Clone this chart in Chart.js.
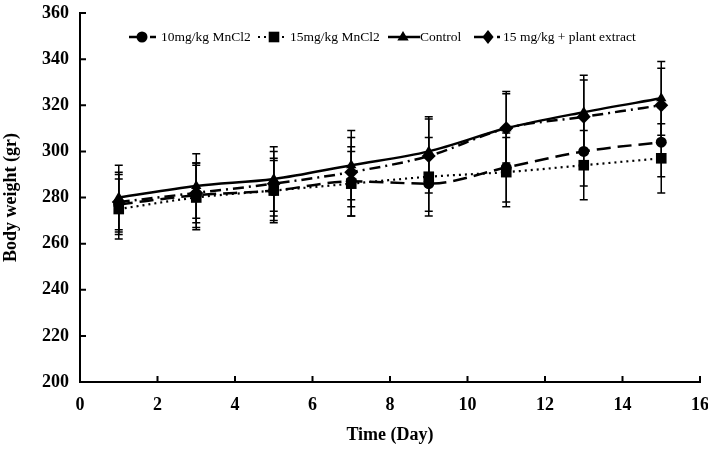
<!DOCTYPE html>
<html>
<head>
<meta charset="utf-8">
<script src="https://cdn.jsdelivr.net/npm/chart.js"></script>
<style>
  body { margin: 0; background: #fff; }
</style>
</head>
<body>
<canvas id="myChart" width="708" height="452"></canvas>
<script>
// data
const days = [1, 3, 5, 7, 9, 11, 13, 15]
const mn10 = [277, 281, 283, 287, 286, 293, 300, 304]
const mn15 = [275, 280, 283, 286, 289, 291, 294, 297]
const control = [280, 285, 288, 294, 300, 310, 317, 323]
const plant = [278, 282, 286, 291, 298, 310, 315, 320]
const errMn10 = [13, 14, 13, 15, 12, 15, 15, 15]
const errMn15 = [13, 14, 14, 14, 17, 15, 15, 15]
const errControl = [14, 14, 14, 15, 15, 16, 16, 16]
const errPlant = [13, 13, 14, 15, 16, 15, 16, 16]
const xTicks = [0, 2, 4, 6, 8, 10, 12, 14, 16]
const yTicks = [200, 220, 240, 260, 280, 300, 320, 340, 360]

const serif = "'Liberation Serif', 'Times New Roman', serif"
Chart.defaults.font.family = serif
Chart.defaults.color = '#000'

const pts = (vals) => days.map((d, i) => ({ x: d, y: vals[i] }))

const series = [
    { label: '10mg/kg MnCl2', vals: mn10, err: errMn10, dash: [14, 7], style: 'circle', r: 5.5, w: 2.5 },
    { label: '15mg/kg MnCl2', vals: mn15, err: errMn15, dash: [2, 4], style: 'rect', r: 7.5, w: 2.2 },
    { label: 'Control', vals: control, err: errControl, dash: [], style: 'triangle', r: 6, w: 2.5 },
    { label: '15 mg/kg + plant extract', vals: plant, err: errPlant, dash: [11, 5, 2, 5], style: 'rectRot', r: 7, w: 2.5 }
]

function marker(ctx, style, x, y, r) {
    ctx.beginPath()
    if (style === 'circle') {
        ctx.arc(x, y, r, 0, Math.PI * 2)
    } else if (style === 'rect') {
        const s = r * Math.SQRT1_2
        ctx.rect(x - s, y - s, 2 * s, 2 * s)
    } else if (style === 'triangle') {
        ctx.moveTo(x, y - r)
        ctx.lineTo(x + r * 0.95, y + r * 0.6)
        ctx.lineTo(x - r * 0.95, y + r * 0.6)
        ctx.closePath()
    } else {
        ctx.moveTo(x, y - r); ctx.lineTo(x + r * 0.8, y); ctx.lineTo(x, y + r); ctx.lineTo(x - r * 0.8, y)
        ctx.closePath()
    }
    ctx.fill()
}

const errorBars = {
    id: 'errorBars',
    beforeDatasetsDraw(chart) {
        const ctx = chart.ctx, xs = chart.scales.x, ys = chart.scales.y
        ctx.save()
        ctx.strokeStyle = '#000'
        ctx.lineWidth = 1.5
        series.forEach(s => {
            days.forEach((d, i) => {
                const px = xs.getPixelForValue(d)
                const top = ys.getPixelForValue(s.vals[i] + s.err[i])
                const bot = ys.getPixelForValue(s.vals[i] - s.err[i])
                ctx.beginPath()
                ctx.moveTo(px, top); ctx.lineTo(px, bot)
                ctx.moveTo(px - 4, top); ctx.lineTo(px + 4, top)
                ctx.moveTo(px - 4, bot); ctx.lineTo(px + 4, bot)
                ctx.stroke()
            })
        })
        ctx.restore()
    },
    afterDraw(chart) {
        const ctx = chart.ctx, xs = chart.scales.x, ys = chart.scales.y
        const a = chart.chartArea
        ctx.save()
        // inward tick marks
        ctx.strokeStyle = '#000'
        ctx.lineWidth = 2
        ctx.beginPath()
        xTicks.forEach(v => {
            const px = xs.getPixelForValue(v)
            ctx.moveTo(px, a.bottom); ctx.lineTo(px, a.bottom - 6)
        })
        yTicks.forEach(v => {
            const py = ys.getPixelForValue(v)
            ctx.moveTo(a.left, py); ctx.lineTo(a.left + 6, py)
        })
        ctx.stroke()

        // legend inside the plot
        const items = [
            { x0: 129, x1: 156, mx: 142, tx: 161 },
            { x0: 258, x1: 287, mx: 274, tx: 290 },
            { x0: 388, x1: 420, mx: 403, tx: 420 },
            { x0: 474, x1: 500, mx: 488, tx: 503 }
        ]
        const ly = 37
        ctx.font = '13.5px ' + serif
        ctx.textBaseline = 'middle'
        ctx.fillStyle = '#000'
        series.forEach((s, i) => {
            const it = items[i]
            ctx.setLineDash(s.dash)
            ctx.lineWidth = s.w
            ctx.beginPath()
            ctx.moveTo(it.x0, ly); ctx.lineTo(it.x1, ly)
            ctx.stroke()
            ctx.setLineDash([])
            marker(ctx, s.style, it.mx, ly, s.r)
            ctx.fillText(s.label, it.tx, ly)
        })
        ctx.restore()
    }
}

const ctx = document.getElementById('myChart')
const myChart = new Chart(ctx, {
    type: 'line',
    data: {
        datasets: series.map(s => ({
            label: s.label,
            data: pts(s.vals),
            borderColor: '#000',
            backgroundColor: '#000',
            borderWidth: s.w,
            borderDash: s.dash,
            pointStyle: s.style,
            pointRadius: s.r,
            pointBackgroundColor: '#000',
            pointBorderColor: '#000',
            pointBorderWidth: 0,
            cubicInterpolationMode: 'monotone',
            fill: false
        }))
    },
    options: {
        responsive: false,
        animation: false,
        layout: { padding: { top: 13, right: 8, left: 0, bottom: 0 } },
        plugins: { legend: { display: false }, tooltip: { enabled: false } },
        scales: {
            x: {
                type: 'linear',
                min: 0, max: 16,
                ticks: { stepSize: 2, padding: 13, font: { size: 18, weight: 'bold' }, maxRotation: 0 },
                grid: { display: false, drawTicks: false, tickLength: 0 },
                border: { display: true, color: '#000', width: 2 },
                title: { display: true, text: 'Time (Day)', font: { size: 18, weight: 'bold' }, padding: { top: 0, bottom: 6 } },
                afterFit(s) { s.height = 70; s.paddingLeft = 0; s.paddingRight = 0 }
            },
            y: {
                min: 200, max: 360,
                ticks: { stepSize: 20, padding: 11, font: { size: 18, weight: 'bold' } },
                grid: { display: false, drawTicks: false, tickLength: 0 },
                border: { display: true, color: '#000', width: 2 },
                title: { display: true, text: 'Body weight (gr)', font: { size: 18, weight: 'bold' }, padding: { top: 1, bottom: 0 } },
                afterFit(s) { s.width = 80; s.paddingTop = 0; s.paddingBottom = 0 }
            }
        }
    },
    plugins: [errorBars]
})
</script>
</body>
</html>
